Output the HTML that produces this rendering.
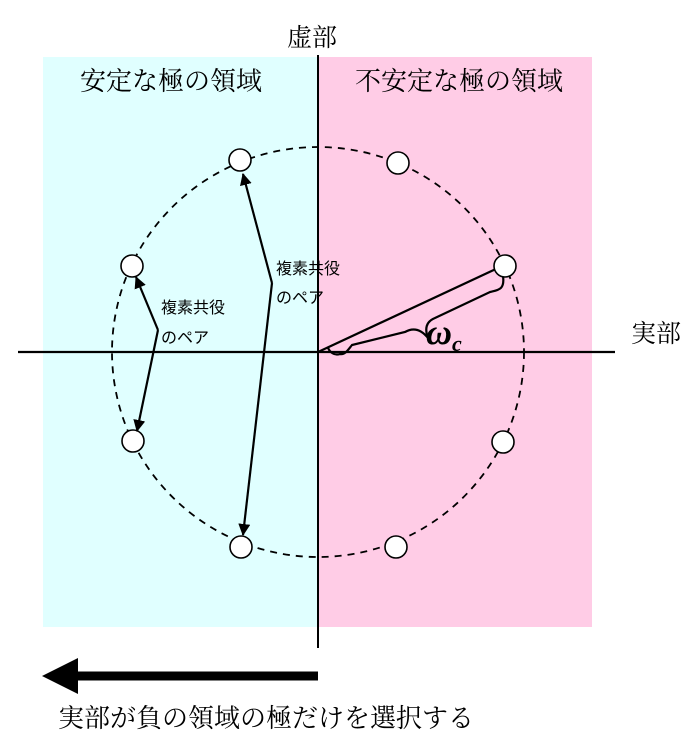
<!DOCTYPE html><html><head><meta charset="utf-8"><style>body{margin:0;background:#fff}</style></head><body>
<svg width="700" height="750" xmlns="http://www.w3.org/2000/svg" font-family="Liberation Serif, Noto Serif CJK SC, Noto Sans CJK JP, serif">
<defs><marker id="a" markerWidth="12" markerHeight="12" refX="11" refY="6" orient="auto" markerUnits="userSpaceOnUse"><path d="M0,0 L12,6 L0,12 Z" fill="#000"/></marker></defs>
<rect x="43" y="57" width="275" height="570" fill="#e0ffff"/>
<rect x="318" y="57" width="274" height="570" fill="#ffcce6"/>
<line x1="318" y1="55" x2="318" y2="648" stroke="#000" stroke-width="2"/>
<line x1="18" y1="352" x2="615" y2="352" stroke="#000" stroke-width="2.2"/>
<ellipse cx="318" cy="352" rx="206" ry="205" fill="none" stroke="#000" stroke-width="1.8" stroke-dasharray="7,6"/>
<line x1="318" y1="352" x2="498" y2="268" stroke="#000" stroke-width="2.2"/>
<path d="M503,276 C505,290 498,290 490,292 L435,318 C425,322 425,330 428,338 C420,328 412,328 405,332 L352,345 C348,350 345,355 340,354 C334,356 330,352 328,348" fill="none" stroke="#000" stroke-width="2.2"/>
<g fill="#fff" stroke="#000" stroke-width="1.6">
<circle cx="240" cy="160" r="11"/><circle cx="398" cy="163" r="11"/><circle cx="132" cy="266" r="11"/><circle cx="505" cy="266" r="11"/><circle cx="133" cy="441" r="11"/><circle cx="503" cy="442" r="11"/><circle cx="241" cy="547" r="11"/><circle cx="396" cy="547" r="11"/></g>
<g fill="none" stroke="#000" stroke-width="2.2">
<line x1="158" y1="330" x2="136" y2="277" marker-end="url(#a)"/>
<line x1="158" y1="330" x2="137" y2="431" marker-end="url(#a)"/>
<line x1="272" y1="283" x2="243" y2="174" marker-end="url(#a)"/>
<line x1="272" y1="283" x2="243" y2="535" marker-end="url(#a)"/></g>
<line x1="318" y1="676" x2="60" y2="676" stroke="#000" stroke-width="9"/>
<path d="M42,676 L78,658 L78,694 Z" fill="#000"/>
<g font-size="26"><text x="287" y="46" font-size="25">虚部</text><text x="80" y="90">安定な極の領域</text><text x="355" y="90">不安定な極の領域</text><text x="631" y="342" font-size="25">実部</text><text x="58" y="727">実部が負の領域の極だけを選択する</text></g>
<g font-size="16" font-family="Liberation Sans, Noto Sans CJK JP, sans-serif"><text x="161" y="313">複素共役</text><text x="161" y="343">のペア</text><text x="276" y="274">複素共役</text><text x="276" y="303">のペア</text></g>
<text x="426" y="344" font-size="36" font-style="italic" font-weight="bold">ω</text><text x="452" y="351" font-size="22" font-style="italic" font-weight="bold">c</text>
</svg></body></html>
